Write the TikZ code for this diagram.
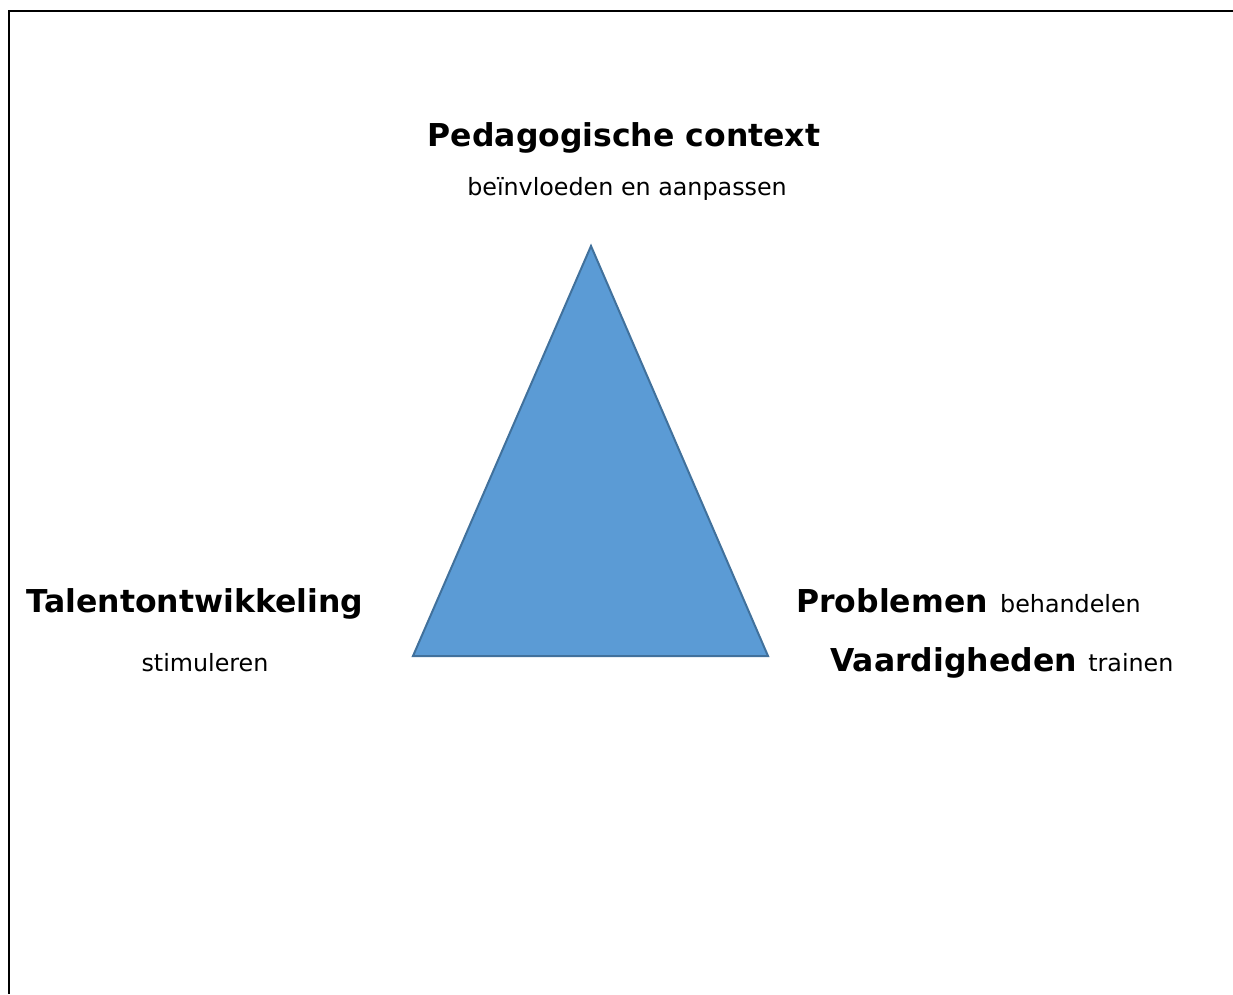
\documentclass[tikz,border=0pt]{standalone}
\usepackage{fontspec}
\setmainfont{DejaVu Sans}
\usetikzlibrary{positioning}
\definecolor{triFill}{HTML}{5B9BD5}
\definecolor{triEdge}{HTML}{41719C}

\begin{document}
\begin{tikzpicture}[x=1pt,y=-1pt]
			\tikzstyle{head}=[font=\fontsize{31.5}{38}\selectfont\bfseries, inner sep=0pt]
			\tikzstyle{sub}=[font=\fontsize{23.8}{28}\selectfont, inner sep=0pt]
			\tikzstyle{tri}=[draw=triEdge, fill=triFill, line width=2pt, line join=miter]
			\newcommand\Xtop{624}
			\newcommand\Xleft{195}
			\newcommand\Yhead{146}
			\newcommand\Ylow{612}
			\newcommand\Ysub{671}

			\useasboundingbox (0,0) rectangle (1233,994);

			% Frame
			\coordinate (frameEnd) at (1233,11);
			\coordinate (frameCorner) at (9,11);
			\coordinate (frameFoot) at (9,994);
			\draw [line width=2.5pt] (frameEnd) -- (frameCorner) -- (frameFoot);

			% Triangle
			\coordinate (apex) at (591,246);
			\coordinate (baseL) at (413,656);
			\coordinate (baseR) at (768,656);
			\draw [tri] (apex) -- (baseL) -- (baseR) -- cycle;

			% Top
			\node [head, anchor=base] at (\Xtop,\Yhead) (ped) {Pedagogische context};
			\node [sub, anchor=base] at (627,195) (ped-sub) {beïnvloeden en aanpassen};

			% Left
			\node [head, anchor=base] at (\Xleft,\Ylow) (talent) {Talentontwikkeling};
			\node [sub, anchor=base] at (205,\Ysub) (talent-sub) {stimuleren};

			% Right
			\node [head, anchor=base west] at (796,\Ylow) (probl) {Problemen};
			\node [sub, right=12pt of probl.base east, anchor=base west] (probl-sub) {behandelen};
			\node [head, anchor=base west] at (830,\Ysub) (vaard) {Vaardigheden};
			\node [sub, right=11pt of vaard.base east, anchor=base west] (vaard-sub) {trainen};

		\end{tikzpicture}
\end{document}
